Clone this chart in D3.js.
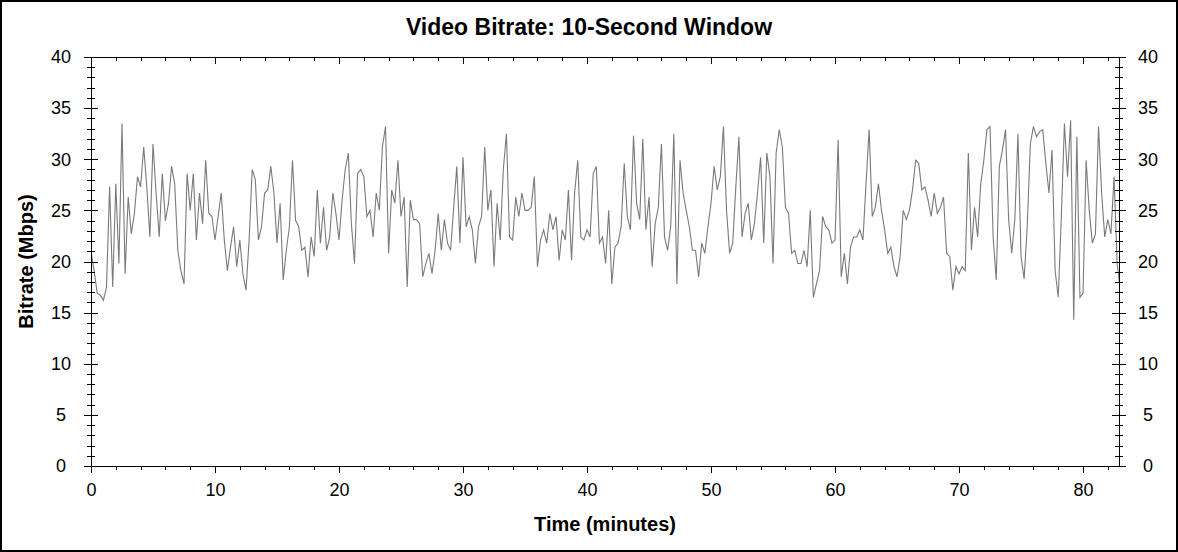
<!DOCTYPE html>
<html><head><meta charset="utf-8">
<script src="https://cdn.jsdelivr.net/npm/d3@7"></script>
<style>
html,body{margin:0;padding:0;background:#fff;}
svg{display:block;}
text{font-family:"Liberation Sans",Arial,sans-serif;fill:#000;}
</style>
</head><body>
<svg id="c" width="1178" height="552"></svg>
<script>
const chartTitle = "Video Bitrate: 10-Second Window";
const xLabel = "Time (minutes)";
const yLabel = "Bitrate (Mbps)";
const xTickValues = [0,10,20,30,40,50,60,70,80];
const yTickValues = [0,5,10,15,20,25,30,35,40];
const xDomainMax = 82.9;
const sampleStepMin = 0.25;
const bitrateMbps = [
21.0,19.1,16.9,16.7,16.2,17.5,27.3,17.5,27.6,19.8,
33.5,18.8,26.3,22.7,24.7,28.3,27.3,31.2,27.3,22.4,
31.5,26.7,22.4,28.6,24.0,25.7,29.3,27.6,21.1,19.1,
17.8,28.6,25.0,28.6,
22.1,26.7,23.7,29.9,24.7,24.4,22.1,24.4,26.7,22.1,
19.1,21.4,23.4,19.5,22.1,18.8,17.2,22.1,29.0,28.0,
22.1,23.4,26.7,27.0,29.3,26.7,21.8,25.7,18.2,21.1,
23.4,29.9,24.0,23.4,
21.1,21.4,18.5,22.4,20.5,27.0,21.8,25.3,21.1,22.4,
26.7,24.7,22.1,26.0,29.0,30.6,23.7,19.8,28.6,29.0,
28.3,24.4,25.0,22.4,26.7,25.0,31.2,33.2,20.8,27.0,
25.7,29.9,24.4,26.3,
17.5,26.0,24.1,24.1,23.7,18.5,19.8,20.8,18.8,21.1,
24.7,21.1,24.1,21.8,21.1,25.3,29.3,21.8,30.2,23.4,
24.4,23.1,19.8,23.4,24.4,31.2,25.0,27.0,19.5,25.7,
22.1,29.0,32.5,22.4,
22.1,26.3,24.4,26.7,25.0,25.0,25.3,28.3,19.5,22.1,
23.1,21.8,24.7,23.1,24.4,20.1,23.1,22.1,27.0,20.1,
26.7,29.9,22.4,22.1,23.1,22.4,28.6,29.3,21.8,22.4,
19.8,25.0,17.8,21.4,
21.8,23.4,29.6,24.4,23.1,32.3,25.7,24.1,32.0,23.1,
26.3,19.5,23.7,25.3,31.5,22.4,21.1,23.4,32.5,17.8,
29.9,26.7,25.0,23.4,21.1,21.1,18.5,21.8,20.8,23.4,
25.7,29.3,27.0,
28.3,33.2,25.0,20.8,21.8,27.3,32.2,22.4,24.7,25.7,
22.1,23.7,26.7,30.2,21.8,30.6,28.3,19.8,30.6,32.9,
31.2,25.3,24.7,20.8,21.1,19.8,19.8,21.1,19.5,25.0,
16.5,17.8,19.1,24.4,
23.4,23.1,21.8,22.1,31.9,18.5,20.8,17.8,21.4,22.4,
22.4,23.1,22.1,27.6,32.9,24.4,25.3,27.6,25.0,23.1,
20.8,21.4,19.5,18.5,20.5,25.0,24.1,25.0,27.0,29.9,
29.6,27.0,27.3,26.0,
24.4,26.7,24.7,25.3,26.3,20.8,20.5,17.2,19.5,18.8,
19.5,19.1,30.6,21.1,25.3,22.4,27.6,29.9,32.9,33.2,
22.4,18.2,29.3,30.9,32.9,24.1,20.8,24.1,32.5,20.5,
18.3,23.4,31.5,33.2,
32.2,32.7,32.9,29.6,26.7,30.9,19.1,16.5,24.4,33.5,
28.3,33.8,14.3,32.2,16.5,16.9,29.9,25.0,21.8,22.7,
33.2,26.7,22.4,24.1,22.7,28.3,19.8,17.2
];

const W = 1178, H = 552;
const P = {l: 91, r: 1119, t: 57, b: 466};
const svg = d3.select("#c");

svg.append("rect").attr("x",1).attr("y",1).attr("width",W-2).attr("height",H-2)
  .attr("fill","#fff").attr("stroke","#000").attr("stroke-width",2);

const x = d3.scaleLinear().domain([0, xDomainMax]).range([P.l, P.r]);
const y = d3.scaleLinear().domain([0, 40]).range([P.b, P.t]);

svg.append("clipPath").attr("id","clip").append("rect")
  .attr("x",P.l).attr("y",P.t).attr("width",P.r-P.l).attr("height",P.b-P.t);

const series = bitrateMbps.map((v,i)=>({t:i*sampleStepMin, v}));
const line = d3.line().x(d=>x(d.t)).y(d=>y(d.v));
svg.append("path").datum(series).attr("d",line).attr("clip-path","url(#clip)")
  .attr("fill","none").attr("stroke","#7a7a7a").attr("stroke-width",1.1);

const xMinor = d3.range(0, xDomainMax, 2);
const yMinor = d3.range(0, 41, 1);

function strip(g){ g.select(".domain").remove(); g.selectAll(".tick line").attr("stroke","#000").attr("shape-rendering","crispEdges"); }

// bottom
svg.append("g").attr("transform",`translate(0,${P.b})`)
  .call(d3.axisBottom(x).tickValues(xMinor).tickSize(4).tickFormat("")).call(strip);
const gb = svg.append("g").attr("transform",`translate(0,${P.b})`)
  .call(d3.axisBottom(x).tickValues(xTickValues).tickSize(7).tickPadding(10).tickFormat(d3.format("d"))).call(strip);
gb.selectAll("text").attr("font-size",18).attr("font-family","Liberation Sans, Arial, sans-serif").attr("fill","#000");
// top
svg.append("g").attr("transform",`translate(0,${P.t})`)
  .call(d3.axisBottom(x).tickValues(xMinor).tickSize(4).tickFormat("")).call(strip);
svg.append("g").attr("transform",`translate(0,${P.t})`)
  .call(d3.axisBottom(x).tickValues(xTickValues).tickSize(7).tickFormat("")).call(strip);

// left
svg.append("g").attr("transform",`translate(${P.l},0)`)
  .call(d3.axisLeft(y).tickValues(yMinor).tickSize(4).tickFormat("")).call(strip)
  .selectAll(".tick line").attr("x1",4);
const gl = svg.append("g").attr("transform",`translate(${P.l},0)`)
  .call(d3.axisLeft(y).tickValues(yTickValues).tickSize(7).tickFormat(d3.format("d"))).call(strip);
gl.selectAll(".tick line").attr("x1",7);
gl.selectAll("text").attr("x",-30).attr("text-anchor","middle").attr("font-size",18)
  .attr("font-family","Liberation Sans, Arial, sans-serif").attr("fill","#000");
// right
svg.append("g").attr("transform",`translate(${P.r},0)`)
  .call(d3.axisRight(y).tickValues(yMinor).tickSize(4).tickFormat("")).call(strip)
  .selectAll(".tick line").attr("x1",-4);
const gr = svg.append("g").attr("transform",`translate(${P.r},0)`)
  .call(d3.axisRight(y).tickValues(yTickValues).tickSize(7).tickFormat(d3.format("d"))).call(strip);
gr.selectAll(".tick line").attr("x1",-7);
gr.selectAll("text").attr("x",29).attr("text-anchor","middle").attr("font-size",18)
  .attr("font-family","Liberation Sans, Arial, sans-serif").attr("fill","#000");

// frame
svg.append("rect").attr("x",P.l+0.5).attr("y",P.t+0.5).attr("width",P.r-P.l).attr("height",P.b-P.t)
  .attr("fill","none").attr("stroke","#000").attr("stroke-width",1);

// titles
svg.append("text").attr("x",589).attr("y",35).attr("text-anchor","middle")
  .attr("font-size",23).attr("font-weight","bold").text(chartTitle);
svg.append("text").attr("x",(P.l+P.r)/2).attr("y",531).attr("text-anchor","middle")
  .attr("font-size",20).attr("font-weight","bold").text(xLabel);
svg.append("text").attr("transform",`translate(33,${(P.t+P.b)/2}) rotate(-90)`).attr("text-anchor","middle")
  .attr("font-size",20).attr("font-weight","bold").text(yLabel);
</script>
</body></html>
